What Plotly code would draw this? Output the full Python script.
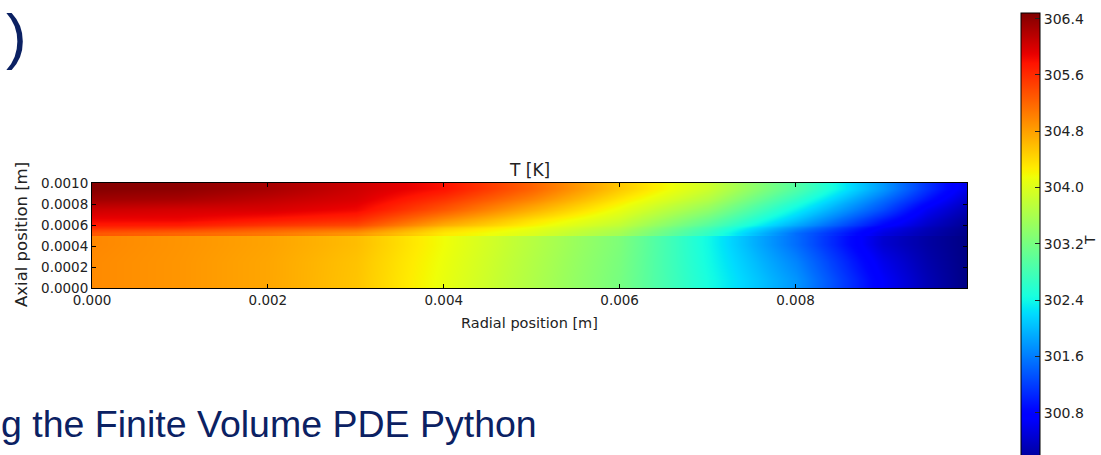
import numpy as np
import plotly.graph_objects as go

# ---------------- data ----------------
x_pos = [0.0, 0.001, 0.002, 0.003, 0.004, 0.005, 0.006, 0.007, 0.008, 0.009, 0.0095, 0.00995]

# lower layer (0 .. 0.0005 m): cell edges in y, rows bottom -> top
y_edges_lower = [0.0, 0.00017, 0.00034, 0.0005]
T_lower = [
    [304.95, 304.87, 304.76, 304.55, 304.10, 303.65, 303.20, 302.45, 301.76, 300.70, 300.30, 300.02],
    [304.95, 304.87, 304.76, 304.56, 304.12, 303.67, 303.22, 302.42, 301.65, 300.60, 300.25, 300.02],
    [304.97, 304.88, 304.78, 304.60, 304.15, 303.70, 303.25, 302.40, 301.50, 300.45, 300.20, 300.02],
]

# upper layer (0.0005 .. 0.001 m)
y_edges_upper = [0.0005, 0.00055, 0.0006, 0.0007, 0.0008, 0.0009, 0.001]
T_upper = [
    [305.30, 305.20, 305.08, 304.87, 304.30, 304.00, 303.55, 302.65, 301.50, 300.55, 300.27, 300.05],
    [305.60, 305.55, 305.35, 305.22, 304.50, 304.12, 303.68, 302.80, 301.72, 300.68, 300.33, 300.08],
    [305.85, 305.85, 305.72, 305.58, 304.90, 304.35, 303.88, 303.08, 302.05, 300.95, 300.47, 300.15],
    [306.05, 306.00, 305.98, 305.85, 305.30, 304.70, 304.10, 303.40, 302.35, 301.28, 300.65, 300.28],
    [306.30, 306.25, 306.12, 305.98, 305.55, 305.00, 304.32, 303.68, 302.65, 301.52, 300.92, 300.42],
    [306.45, 306.40, 306.26, 306.05, 305.78, 305.22, 304.52, 303.88, 302.92, 301.78, 301.12, 300.58],
]

x_ticks = [0.0, 0.002, 0.004, 0.006, 0.008]
y_ticks = [0.0, 0.0002, 0.0004, 0.0006, 0.0008, 0.0010]
cbar_ticks = [300.8, 301.6, 302.4, 303.2, 304.0, 304.8, 305.6, 306.4]
T_min, T_max = 300.0, 306.48

# ---------------- jet colour map ----------------
def jet_scale(n=101):
    t = np.linspace(0, 1, n)
    r = np.interp(t, [0, 0.35, 0.66, 0.89, 1], [0, 0, 1, 1, 0.5])
    g = np.interp(t, [0, 0.125, 0.375, 0.64, 0.91, 1], [0, 0, 1, 1, 0, 0])
    b = np.interp(t, [0, 0.11, 0.34, 0.65, 1], [0.5, 1, 1, 0, 0])
    return [[float(tt), f"rgb({int(round(rr*255))},{int(round(gg*255))},{int(round(bb*255))})"]
            for tt, rr, gg, bb in zip(t, r, g, b)]

W, H = 1101, 455
L, R, T, B = 92, 967, 183, 288   # plot area in pixels

def px_x(px):
    return (px - L) / (R - L)

def px_y(py):
    return (B - py) / (B - T)

font_mpl = "DejaVu Sans"
font_slide = "Liberation Sans, Arial"
navy = "#0b2163"

fig = go.Figure()
fig.add_trace(go.Heatmap(x=x_pos, y=y_edges_lower, z=T_lower, coloraxis="coloraxis",
                         zsmooth="best", hoverinfo="skip"))
fig.add_trace(go.Heatmap(x=x_pos, y=y_edges_upper, z=T_upper, coloraxis="coloraxis",
                         zsmooth="best", hoverinfo="skip"))

axis_common = dict(
    showgrid=False, zeroline=False, showline=True, linecolor="black", linewidth=1,
    mirror="ticks", ticks="inside", ticklen=4, tickwidth=1, tickcolor="black",
    tickfont=dict(family=font_mpl, size=13.5, color="#222"),
)

fig.update_layout(
    width=W, height=H, autosize=False,
    margin=dict(l=L, r=W - R, t=T, b=H - B, pad=0),
    paper_bgcolor="white", plot_bgcolor="white",
    showlegend=False,
    xaxis=dict(range=[0, 0.00995], tickvals=x_ticks, tickformat=".3f", **axis_common),
    yaxis=dict(range=[0, 0.001], tickvals=y_ticks, tickformat=".4f", **axis_common),
    coloraxis=dict(
        colorscale=jet_scale(), cmin=T_min, cmax=T_max,
        colorbar=dict(
            thickness=19, thicknessmode="pixels",
            len=456, lenmode="pixels",
            xref="container", x=1021 / W, xanchor="left",
            yref="paper", y=px_y(13), yanchor="top",
            xpad=0, ypad=0,
            outlinewidth=1, outlinecolor="black",
            ticks="inside", ticklen=5, tickcolor="#222",
            ticklabeloverflow="allow",
            tickvals=cbar_ticks, ticktext=[f"{v:.1f}" for v in cbar_ticks],
            tickfont=dict(family=font_mpl, size=14, color="#222"),
        ),
    ),
    annotations=[
        dict(text="T [K]", x=0.5, y=px_y(170), xref="paper", yref="paper",
             xanchor="center", yanchor="middle", showarrow=False,
             font=dict(family=font_mpl, size=17, color="#222")),
        dict(text="Radial position [m]", x=0.5, y=px_y(323), xref="paper", yref="paper",
             xanchor="center", yanchor="middle", showarrow=False,
             font=dict(family=font_mpl, size=14.5, color="#222")),
        dict(text="Axial position [m]", x=px_x(21), y=px_y(235), xref="paper", yref="paper",
             xanchor="center", yanchor="middle", showarrow=False, textangle=-90,
             font=dict(family=font_mpl, size=16.5, color="#222")),
        dict(text="T", x=px_x(1100), y=px_y(240), xref="paper", yref="paper",
             xanchor="right", yanchor="middle", showarrow=False, textangle=-90,
             font=dict(family=font_mpl, size=14, color="#222")),
        dict(text=")", x=px_x(4), y=px_y(35), xref="paper", yref="paper",
             xanchor="left", yanchor="middle", showarrow=False,
             font=dict(family=font_slide, size=62, color=navy)),
        dict(text="g the Finite Volume PDE Python", x=px_x(-1), y=px_y(424), xref="paper", yref="paper",
             xanchor="left", yanchor="middle", showarrow=False,
             font=dict(family=font_slide, size=37.5, color=navy)),
    ],
)

fig.write_html("out.html")
